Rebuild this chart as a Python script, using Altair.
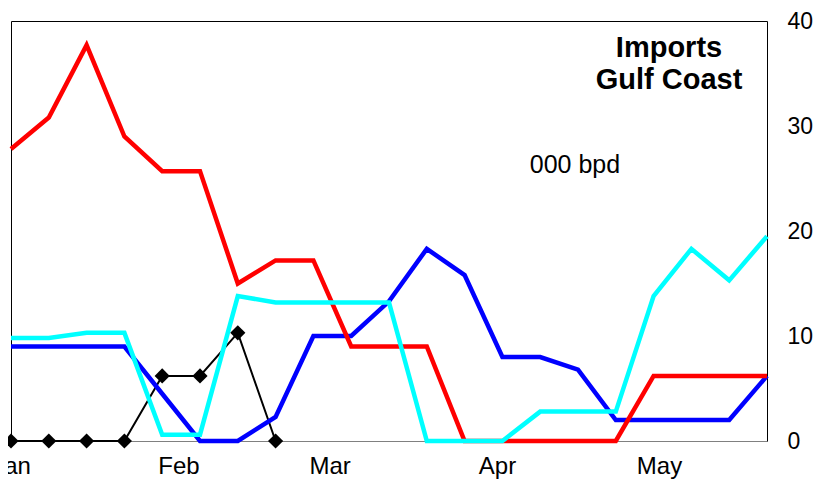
import altair as alt
import pandas as pd

# weekly observations (Jan 1 .. May 21)
weeks = ["2003-01-01", "2003-01-08", "2003-01-15", "2003-01-22", "2003-01-29",
         "2003-02-05", "2003-02-12", "2003-02-19", "2003-02-26", "2003-03-05",
         "2003-03-12", "2003-03-19", "2003-03-26", "2003-04-02", "2003-04-09",
         "2003-04-16", "2003-04-23", "2003-04-30", "2003-05-07", "2003-05-14",
         "2003-05-21"]

red = [27.8, 30.8, 37.7, 29.0, 25.7, 25.7, 15.0, 17.2, 17.2, 9.0, 9.0,
       9.0, 0, 0, 0, 0, 0, 6.2, 6.2, 6.2, 6.2]
blue = [9.0, 9.0, 9.0, 9.0, 4.5, 0, 0, 2.3, 10.0, 10.0, 13.3,
        18.3, 15.8, 8.0, 8.0, 6.8, 2.0, 2.0, 2.0, 2.0, 6.2]
cyan = [9.8, 9.8, 10.3, 10.3, 0.6, 0.6, 13.8, 13.2, 13.2, 13.2, 13.2,
        0, 0, 0, 2.8, 2.8, 2.8, 13.8, 18.3, 15.3, 19.5]
black = [0, 0, 0, 0, 6.2, 6.2, 10.3, 0]

month_ticks = [(1, 1), (2, 1), (3, 1), (4, 1), (5, 1)]
y_ticks = [0, 10, 20, 30, 40]
title_lines = ["Imports", "Gulf Coast"]
unit_label = "000 bpd"

FONT = "Liberation Sans"

df = pd.DataFrame({"date": weeks, "red": red, "blue": blue, "cyan": cyan})
long = df.melt("date", var_name="series", value_name="value")
df_black = pd.DataFrame({"date": weeks[:len(black)], "value": black})

x_enc = alt.X(
    "date:T",
    title=None,
    scale=alt.Scale(
        type="utc",
        domain=[alt.DateTime(year=2003, month=1, date=1, utc=True),
                alt.DateTime(year=2003, month=5, date=21, utc=True)],
    ),
    axis=alt.Axis(
        values=[alt.DateTime(year=2003, month=m, date=d, utc=True) for m, d in month_ticks],
        labelExpr="utcFormat(datum.value, '%b')",
        ticks=False,
        grid=False,
        domainColor="#808080",
        domainWidth=1,
        labelFontSize=24,
        labelColor="black",
        labelFont=FONT,
        labelPadding=13,
        labelAlign="center",
        labelFlush=False,
        labelBound=False,
        labelOverlap=False,
    ),
)
y_enc = alt.Y(
    "value:Q",
    title=None,
    scale=alt.Scale(domain=[0, 40], nice=False, zero=True),
    axis=alt.Axis(
        orient="right",
        values=y_ticks,
        ticks=False,
        grid=False,
        domain=False,
        labelFontSize=23,
        labelColor="black",
        labelFont=FONT,
        labelPadding=20,
        labelAlign="left",
        labelBaseline="middle",
    ),
)

black_line = alt.Chart(df_black).mark_line(color="black", strokeWidth=2).encode(x=x_enc, y=y_enc)
black_pts = alt.Chart(df_black).mark_point(
    shape="diamond", filled=True, color="black", size=230, opacity=1
).encode(x=x_enc, y=y_enc)


def series_line(name, color):
    return (
        alt.Chart(long)
        .transform_filter(alt.datum.series == name)
        .mark_line(color=color, strokeWidth=4.5, strokeJoin="miter")
        .encode(x=x_enc, y=y_enc)
    )


blue_line = series_line("blue", "#0000FF")
red_line = series_line("red", "#FF0000")
cyan_line = series_line("cyan", "#00FFFF")

one = pd.DataFrame({"k": [0]})
title_txt = alt.Chart(one).mark_text(
    text=title_lines, font=FONT, fontSize=29, fontWeight="bold",
    align="center", baseline="middle", lineHeight=32, color="black",
).encode(x=alt.value(658), y=alt.value(27))
unit_txt = alt.Chart(one).mark_text(
    text=unit_label, font=FONT, fontSize=25, align="center",
    baseline="middle", color="black",
).encode(x=alt.value(564), y=alt.value(144))

chart = (
    alt.layer(black_line, black_pts, blue_line, red_line, cyan_line,
              title_txt, unit_txt)
    .properties(
        width=756,
        height=420,
        autosize=alt.AutoSizeParams(type="none"),
        padding={"left": 3, "top": 13, "right": 57, "bottom": 41},
        background="white",
    )
    .configure_view(stroke="black", strokeWidth=1)
)

chart.save("out.html", embed_options={"renderer": "svg", "actions": False})
